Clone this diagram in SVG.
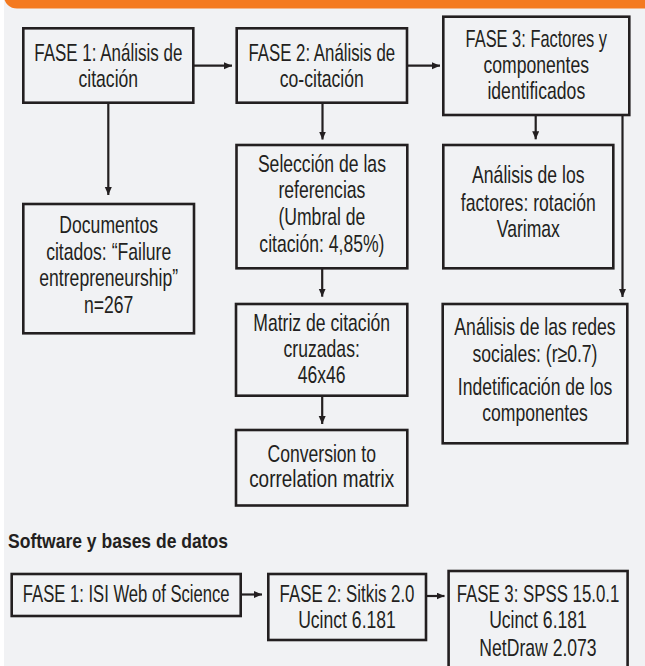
<svg xmlns="http://www.w3.org/2000/svg" width="645" height="666" viewBox="0 0 645 666">
<style>
.box{fill:none;stroke:#231f20;stroke-width:2.6}
.t{font-family:"Liberation Sans",Arial,sans-serif;font-size:24px;fill:#231f20;text-anchor:middle}
.h{font-family:"Liberation Sans",Arial,sans-serif;font-size:21px;font-weight:bold;fill:#231f20}
.c{fill:none;stroke:#231f20;stroke-width:2.2}
</style>
<defs>
<marker id="ah" markerUnits="userSpaceOnUse" markerWidth="9" markerHeight="8" refX="8" refY="3.5" orient="auto">
<path d="M0,0 L8,3.5 L0,7 z" fill="#231f20"/>
</marker>
</defs>
<rect x="0" y="0" width="645" height="666" fill="#ffffff"/>
<rect x="4" y="0" width="641" height="666" fill="#f1f2f4"/>
<rect x="4" y="-16" width="660" height="24.5" rx="13" fill="#f47a20"/>

<g id="connectors">
<path class="c" d="M193.3,65.7 H232" marker-end="url(#ah)"/>
<path class="c" d="M407,65.7 H440" marker-end="url(#ah)"/>
<path class="c" d="M108.3,102.7 V195" marker-end="url(#ah)"/>
<path class="c" d="M322.5,102.7 V139.5" marker-end="url(#ah)"/>
<path class="c" d="M322.2,268.3 V296.7" marker-end="url(#ah)"/>
<path class="c" d="M322.2,395.7 V424" marker-end="url(#ah)"/>
<path class="c" d="M535.7,115 V139.3" marker-end="url(#ah)"/>
<path class="c" d="M622.5,115 V297" marker-end="url(#ah)"/>
<path class="c" d="M240.7,594.5 H262" marker-end="url(#ah)"/>
<path class="c" d="M426,596 H444.5" marker-end="url(#ah)"/>
</g>

<g id="fase1">
<rect class="box" x="23.3" y="28.3" width="170" height="74.4"/>
<g transform="translate(108.3,0) scale(0.733,1)">
<text class="t" x="0" y="60.7" textLength="202" lengthAdjust="spacingAndGlyphs">FASE 1: Análisis de</text>
<text class="t" x="0" y="86.7">citación</text>
</g>
</g>
<g id="fase2">
<rect class="box" x="236.7" y="28.3" width="170.3" height="74.4"/>
<g transform="translate(321.8,0) scale(0.733,1)">
<text class="t" x="0" y="60.7" textLength="200" lengthAdjust="spacingAndGlyphs">FASE 2: Análisis de</text>
<text class="t" x="0" y="87">co-citación</text>
</g>
</g>
<g id="fase3">
<rect class="box" x="443.3" y="16.7" width="186" height="98.3"/>
<g transform="translate(536.3,0) scale(0.733,1)">
<text class="t" x="0" y="46.7" textLength="193" lengthAdjust="spacingAndGlyphs">FASE 3: Factores y</text>
<text class="t" x="0" y="73">componentes</text>
<text class="t" x="0" y="99">identificados</text>
</g>
</g>
<g id="documentos">
<rect class="box" x="23.3" y="204" width="170.7" height="129.3"/>
<g transform="translate(108.7,0) scale(0.733,1)">
<text class="t" x="0" y="232.7">Documentos</text>
<text class="t" x="0" y="260">citados: “Failure</text>
<text class="t" x="0" y="286">entrepreneurship”</text>
<text class="t" x="0" y="313.3">n=267</text>
</g>
</g>
<g id="seleccion">
<rect class="box" x="236.5" y="145" width="170.8" height="123.3"/>
<g transform="translate(321.9,0) scale(0.733,1)">
<text class="t" x="0" y="171.7">Selección de las</text>
<text class="t" x="0" y="198.3">referencias</text>
<text class="t" x="0" y="225">(Umbral de</text>
<text class="t" x="0" y="251.7">citación: 4,85%)</text>
</g>
</g>
<g id="factores">
<rect class="box" x="443.3" y="145" width="170" height="123.3"/>
<g transform="translate(528.3,0) scale(0.733,1)">
<text class="t" x="0" y="183.3">Análisis de los</text>
<text class="t" x="0" y="210.7">factores: rotación</text>
<text class="t" x="0" y="237.3">Varimax</text>
</g>
</g>
<g id="matriz">
<rect class="box" x="236" y="304" width="171.3" height="91.7"/>
<g transform="translate(321.7,0) scale(0.733,1)">
<text class="t" x="0" y="330.7">Matriz de citación</text>
<text class="t" x="0" y="356.7">cruzadas:</text>
<text class="t" x="0" y="382.7">46x46</text>
</g>
</g>
<g id="conversion">
<rect class="box" x="236" y="430" width="171.3" height="75.5"/>
<g transform="translate(321.7,0) scale(0.733,1)">
<text class="t" x="0" y="461.7">Conversion to</text>
<text class="t" x="0" y="486.7" textLength="198" lengthAdjust="spacingAndGlyphs">correlation matrix</text>
</g>
</g>
<g id="redes">
<rect class="box" x="442.7" y="304" width="184.6" height="139.3"/>
<g transform="translate(535,0) scale(0.733,1)">
<text class="t" x="0" y="335">Análisis de las redes</text>
<text class="t" x="0" y="361.7">sociales: (r≥0.7)</text>
<text class="t" x="0" y="395">Indetificación de los</text>
<text class="t" x="0" y="420.7">componentes</text>
</g>
</g>

<text class="h" x="8" y="548" textLength="220" lengthAdjust="spacingAndGlyphs">Software y bases de datos</text>

<g id="soft1">
<rect class="box" x="11.7" y="574" width="229" height="42"/>
<g transform="translate(126.2,0) scale(0.733,1)">
<text class="t" x="0" y="601.7" textLength="282" lengthAdjust="spacingAndGlyphs">FASE 1: ISI Web of Science</text>
</g>
</g>
<g id="soft2">
<rect class="box" x="268.3" y="574" width="157.7" height="66"/>
<g transform="translate(347,0) scale(0.733,1)">
<text class="t" x="0" y="601.7" textLength="184" lengthAdjust="spacingAndGlyphs">FASE 2: Sitkis 2.0</text>
<text class="t" x="0" y="628.3">Ucinct 6.181</text>
</g>
</g>
<g id="soft3">
<rect class="box" x="448.6" y="571" width="179" height="100"/>
<g transform="translate(538,0) scale(0.733,1)">
<text class="t" x="0" y="601.7" textLength="222" lengthAdjust="spacingAndGlyphs">FASE 3: SPSS 15.0.1</text>
<text class="t" x="0" y="628.3">Ucinct 6.181</text>
<text class="t" x="0" y="656">NetDraw 2.073</text>
</g>
</g>
</svg>
